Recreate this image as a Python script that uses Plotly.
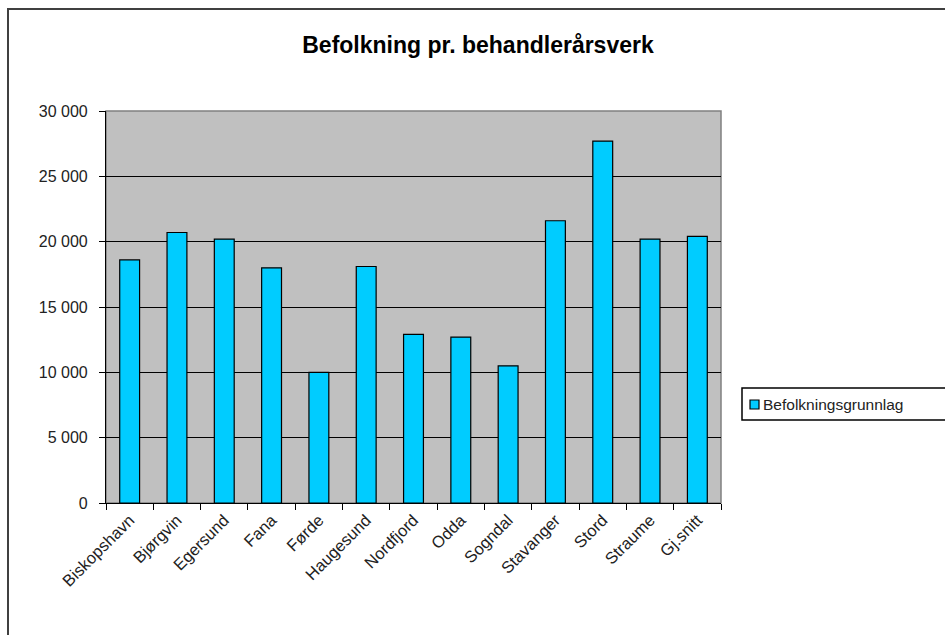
import plotly.graph_objects as go

categories = ["Biskopshavn", "Bjørgvin", "Egersund", "Fana", "Førde", "Haugesund",
              "Nordfjord", "Odda", "Sogndal", "Stavanger", "Stord", "Straume", "Gj.snitt"]
values = [18600, 20700, 20200, 18000, 10000, 18100, 12900, 12700, 10500, 21600, 27700, 20200, 20400]
series_name = "Befolkningsgrunnlag"
title_text = "Befolkning pr. behandlerårsverk"
y_ticks = [0, 5000, 10000, 15000, 20000, 25000, 30000]

W, H = 945, 635
x0p, x1p = 106, 721
ytop, ybot = 111, 503
BAR_COLOR = "#00CCFF"

def px(x):
    return x / W

def py(y):
    return 1 - y / H

fig = go.Figure()
fig.add_trace(go.Bar(
    x=categories, y=values, name=series_name,
    marker=dict(color=BAR_COLOR, line=dict(color="black", width=1.2)),
    width=0.42, showlegend=False,
))

font = "Liberation Sans, Arial, sans-serif"
fig.update_layout(
    width=W, height=H,
    margin=dict(l=0, r=0, t=0, b=0, autoexpand=False),
    paper_bgcolor="white", plot_bgcolor="#C0C0C0",
    separators=", ",
    font=dict(family=font, size=16, color="#222"),
    title=dict(text="<b>" + title_text + "</b>", x=px(478), xanchor="center",
               y=py(45), yanchor="middle", font=dict(size=23, color="black")),
    xaxis=dict(domain=[px(x0p), px(x1p)], type="category", tickson="boundaries",
               ticks="outside", ticklen=6, tickcolor="black", tickangle=-45,
               showline=True, linecolor="black", linewidth=1.2,
               tickfont=dict(size=16.5, color="#222"), showgrid=False),
    yaxis=dict(domain=[py(ybot), py(ytop)], range=[0, 30000],
               tickvals=y_ticks, tickformat=",d",
               ticks="outside", ticklen=6, tickcolor="black",
               ticklabelstandoff=8,
               showline=True, linecolor="black", linewidth=1.2,
               showgrid=True, gridcolor="black", gridwidth=1.2,
               tickfont=dict(size=16, color="#222"), zeroline=False),
    showlegend=False,
    shapes=[
        dict(type="rect", xref="paper", yref="paper",
             x0=px(x0p), x1=px(x1p), y0=py(ybot), y1=py(ytop),
             line=dict(color="#808080", width=1.5), layer="below"),
        dict(type="rect", xref="paper", yref="paper",
             x0=px(8), x1=1.02, y0=-0.02, y1=py(9),
             line=dict(color="#404040", width=2)),
        # legend box
        dict(type="rect", xref="paper", yref="paper",
             x0=px(742), x1=px(960), y0=py(420), y1=py(388),
             line=dict(color="black", width=1.5), fillcolor="white"),
        dict(type="rect", xref="paper", yref="paper",
             x0=px(750), x1=px(759), y0=py(409), y1=py(400),
             line=dict(color="black", width=1.2), fillcolor=BAR_COLOR),
    ],
    annotations=[
        dict(text=series_name, xref="paper", yref="paper", x=px(761), y=py(404),
             xanchor="left", yanchor="middle", showarrow=False,
             font=dict(size=15.5, color="#222")),
    ],
)

fig.write_html("out.html")
